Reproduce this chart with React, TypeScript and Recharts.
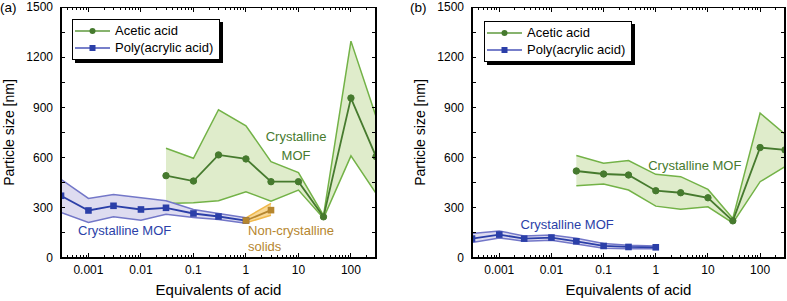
import { ComposedChart, Line, Area, XAxis, YAxis, ReferenceDot, Legend } from "recharts";

// x positions (equivalents of acid)
const GREEN_X = [0.03, 0.1, 0.3, 1, 3, 10, 30, 100, 300];
const BLUE_X = [0.0003, 0.001, 0.003, 0.01, 0.03, 0.1, 0.3, 1];
const ORANGE_X = [1, 3];

// panel (a)
const A_GREEN_MID = [492, 460, 616, 592, 456, 456, 246, 956, 606];
const A_GREEN_LO = [326, 330, 342, 396, 340, 406, 238, 610, 386];
const A_GREEN_HI = [656, 596, 886, 790, 576, 510, 254, 1296, 846];
const A_BLUE_MID = [372, 284, 312, 290, 300, 266, 248, 224];
const A_BLUE_LO = [272, 212, 246, 226, 262, 242, 230, 208];
const A_BLUE_HI = [470, 356, 380, 360, 342, 290, 266, 240];
const A_ORANGE_MID = [224, 286];
const A_ORANGE_LO = [210, 256];
const A_ORANGE_HI = [240, 326];

// panel (b)
const B_GREEN_MID = [520, 502, 496, 402, 390, 360, 222, 660, 646];
const B_GREEN_LO = [432, 442, 406, 310, 292, 306, 210, 456, 546];
const B_GREEN_HI = [612, 566, 582, 500, 486, 410, 236, 866, 740];
const B_BLUE_MID = [116, 140, 116, 122, 100, 72, 66, 64];
const B_BLUE_LO = [92, 120, 100, 106, 84, 58, 56, 56];
const B_BLUE_HI = [146, 162, 132, 138, 118, 86, 76, 72];

// axes
const X_DOMAIN = [0.0003, 300];
const Y_DOMAIN = [0, 1500];
const X_MAJOR = [0.001, 0.01, 0.1, 1, 10, 100];
const X_DECADES = [0.0001, 0.001, 0.01, 0.1, 1, 10, 100];
const Y_TICKS = [0, 150, 300, 450, 600, 750, 900, 1050, 1200, 1350, 1500];
const Y_LABELED = [0, 300, 600, 900, 1200, 1500];

const X_TICKS = X_DECADES.flatMap((d) =>
  [1, 2, 3, 4, 5, 6, 7, 8, 9].map((m) => Number((m * d).toPrecision(3)))
).filter((v) => v >= X_DOMAIN[0] && v <= X_DOMAIN[1]);

const GREEN_DARK = "#467a2e";
const GREEN_EDGE = "#73b247";
const GREEN_FILL = "#dfeccb";
const BLUE_DARK = "#2b3fa8";
const BLUE_EDGE = "#7377c8";
const BLUE_FILL = "#dedcf0";
const ORANGE_DARK = "#b6862e";
const ORANGE_EDGE = "#f0b849";
const ORANGE_FILL = "#f8d896";

const FONT = '"Liberation Sans", Arial, Helvetica, sans-serif';
const X_AXIS_H = 40;
const Y_AXIS_W = 45;

const rows = (xs: number[], mid: number[], lo: number[], hi: number[]) =>
  xs.map((x, i) => ({ x, y: mid[i], range: [lo[i], hi[i]] }));

const BottomTick = (p: any) =>
  X_MAJOR.includes(p.payload.value) ? (
    <text x={p.x} y={p.y + 16} textAnchor="middle" fontSize={12} fill="#000" fontFamily={FONT}>
      {String(p.payload.value)}
    </text>
  ) : (
    <g />
  );

const circleDot = (color: string) => ({ r: 3.2, fill: color, stroke: color, strokeWidth: 1 });

const squareDot = (color: string) => (p: any) => (
  <rect key={`sq-${p.index}`} x={p.cx - 3.3} y={p.cy - 3.3} width={6.6} height={6.6} fill={color} />
);

const LEGEND_NAMES = ["Acetic acid", "Poly(acrylic acid)"];
const LEGEND_COLORS = [GREEN_DARK, BLUE_DARK];

const LegendBox = () => (
  <div
    style={{
      border: "1px solid #000",
      background: "#fff",
      boxShadow: "3px 3px 0 #000",
      padding: "3px 6px 3px 1px",
      fontFamily: FONT,
      fontSize: 13,
      lineHeight: "16.5px",
      color: "#000",
    }}
  >
    {LEGEND_NAMES.map((name, i) => (
      <div key={name} style={{ display: "flex", alignItems: "center", whiteSpace: "nowrap" }}>
        <svg width={38} height={12} style={{ marginRight: 3 }}>
          <line x1={1} x2={36} y1={6} y2={6} stroke={i === 0 ? "#5f9a3e" : "#4a55b8"} strokeWidth={1.6} />
          {i === 0 ? (
            <circle cx={18.5} cy={6} r={3} fill={LEGEND_COLORS[i]} />
          ) : (
            <rect x={15.5} y={3} width={6} height={6} fill={LEGEND_COLORS[i]} />
          )}
        </svg>
        <span>{name}</span>
      </div>
    ))}
  </div>
);

type Note = { x: number; y: number; text: string; color: string; pos?: "center" | "right" };

const A_NOTES: Note[] = [
  { x: 9, y: 724, text: "Crystalline", color: GREEN_DARK },
  { x: 9, y: 614, text: "MOF", color: GREEN_DARK },
  { x: 0.0049, y: 166, text: "Crystalline MOF", color: BLUE_DARK },
  { x: 1.1, y: 166, text: "Non-crystalline", color: ORANGE_DARK, pos: "right" },
  { x: 1.1, y: 70, text: "solids", color: ORANGE_DARK, pos: "right" },
];

const B_NOTES: Note[] = [
  { x: 5.6, y: 556, text: "Crystalline MOF", color: GREEN_DARK },
  { x: 0.02, y: 202, text: "Crystalline MOF", color: BLUE_DARK },
];

type Row = { x: number; y: number; range: number[] };

type PanelProps = {
  tag: string;
  left: number;
  width: number;
  margin: { top: number; right: number; bottom: number; left: number };
  yLabelX: number;
  tagX: number;
  legendPos: { left: number; top: number };
  green: Row[];
  blue: Row[];
  orange?: Row[];
  notes: Note[];
};

// box frame with inward ticks on all four sides, laid over the plot area
function Frame({ l, r, t, b }: { l: number; r: number; t: number; b: number }) {
  const lo = Math.log10(X_DOMAIN[0]);
  const hi = Math.log10(X_DOMAIN[1]);
  const px = (v: number) => l + ((Math.log10(v) - lo) / (hi - lo)) * (r - l);
  const py = (v: number) => b - ((v - Y_DOMAIN[0]) / (Y_DOMAIN[1] - Y_DOMAIN[0])) * (b - t);
  const mark = (key: string, left: number, top: number, w: number, h: number) => (
    <div key={key} style={{ position: "absolute", left, top, width: w, height: h, background: "#000" }} />
  );
  return (
    <div style={{ position: "absolute", left: 0, top: 0, width: "100%", height: "100%", zIndex: 10, pointerEvents: "none" }}>
      <div
        style={{
          position: "absolute",
          left: l - 1,
          top: t - 0.5,
          width: r - l + 2,
          height: b - t + 1.5,
          boxSizing: "border-box",
          borderStyle: "solid",
          borderColor: "#000",
          borderWidth: "1px 2px 2px 2px",
        }}
      />
      {X_TICKS.map((v) => {
        const len = X_MAJOR.includes(v) ? 5 : 3;
        const x = px(v) - 0.5;
        return [mark(`b${v}`, x, b - len, 1, len), mark(`t${v}`, x, t, 1, len)];
      })}
      {Y_TICKS.map((v) => {
        const y = py(v) - 0.5;
        return [mark(`l${v}`, l, y, 4, 1), mark(`r${v}`, r - 4, y, 4, 1)];
      })}
    </div>
  );
}

function Panel(props: PanelProps) {
  const { margin } = props;
  const plotTop = margin.top;
  const plotBottom = 301 - margin.bottom - X_AXIS_H;
  const plotLeft = margin.left + Y_AXIS_W;
  const plotRight = props.width - margin.right;
  const ax = { xAxisId: "b", yAxisId: "l", ifOverflow: "visible" as const };
  return (
    <div style={{ position: "absolute", left: props.left, top: 0, width: props.width, height: 301 }}>
      <ComposedChart width={props.width} height={301} margin={margin}>
        <XAxis
          xAxisId="b"
          dataKey="x"
          type="number"
          scale="log"
          domain={X_DOMAIN}
          allowDataOverflow
          ticks={X_TICKS}
          interval={0}
          tick={BottomTick}
          tickLine={false}
          tickSize={0}
          tickMargin={0}
          height={X_AXIS_H}
          axisLine={false}
          label={{ value: "Equivalents of acid", position: "insideBottom", offset: 3, fontSize: 15, fill: "#000", fontFamily: FONT }}
        />
        <YAxis
          yAxisId="l"
          type="number"
          domain={Y_DOMAIN}
          ticks={Y_TICKS}
          interval={0}
          tickFormatter={(v: number) => (Y_LABELED.includes(v) ? String(v) : "")}
          tick={{ fontSize: 12, fill: "#000", fontFamily: FONT }}
          tickLine={false}
          tickSize={0}
          tickMargin={8}
          width={Y_AXIS_W}
          axisLine={false}
        />

        <Area
          xAxisId="b" yAxisId="l" data={props.green} dataKey="range" type="linear"
          stroke={GREEN_EDGE} strokeWidth={1.5} fill={GREEN_FILL} fillOpacity={1}
          dot={false} activeDot={false} isAnimationActive={false}
        />
        <Area
          xAxisId="b" yAxisId="l" data={props.blue} dataKey="range" type="linear"
          stroke={BLUE_EDGE} strokeWidth={1.5} fill={BLUE_FILL} fillOpacity={1}
          dot={false} activeDot={false} isAnimationActive={false}
        />
        {props.orange && (
          <Area
            xAxisId="b" yAxisId="l" data={props.orange} dataKey="range" type="linear"
            stroke={ORANGE_EDGE} strokeWidth={1.5} fill={ORANGE_FILL} fillOpacity={1}
            dot={false} activeDot={false} isAnimationActive={false}
          />
        )}
        <Line
          xAxisId="b" yAxisId="l" data={props.green} dataKey="y" type="linear"
          stroke={GREEN_DARK} strokeWidth={1.8} dot={circleDot(GREEN_DARK)}
          activeDot={false} isAnimationActive={false}
        />
        <Line
          xAxisId="b" yAxisId="l" data={props.blue} dataKey="y" type="linear"
          stroke={BLUE_DARK} strokeWidth={1.8} dot={squareDot(BLUE_DARK)}
          activeDot={false} isAnimationActive={false}
        />
        {props.orange && (
          <Line
            xAxisId="b" yAxisId="l" data={props.orange} dataKey="y" type="linear"
            stroke={ORANGE_DARK} strokeWidth={1.8} dot={squareDot(ORANGE_DARK)}
            activeDot={false} isAnimationActive={false}
          />
        )}

        {props.notes.map((n, i) => (
          <ReferenceDot
            key={i}
            {...ax}
            x={n.x}
            y={n.y}
            r={0}
            fill="none"
            stroke="none"
            label={{
              value: n.text,
              position: n.pos ?? "center",
              offset: 0,
              fill: n.color,
              fontSize: 13,
              fontFamily: FONT,
            }}
          />
        ))}

        <Legend
          layout="vertical"
          align="center"
          verticalAlign="middle"
          content={LegendBox}
          wrapperStyle={{ left: props.legendPos.left, top: props.legendPos.top, width: "auto" }}
        />
      </ComposedChart>
      <Frame l={plotLeft} r={plotRight} t={plotTop} b={plotBottom} />
      <svg
        width={props.width}
        height={301}
        style={{ position: "absolute", left: 0, top: 0, pointerEvents: "none", zIndex: 11 }}
      >
        <text x={props.tagX} y={12} fontSize={13.5} fill="#000" fontFamily={FONT}>
          {props.tag}
        </text>
        <text
          x={props.yLabelX}
          y={(plotTop + plotBottom) / 2}
          transform={`rotate(-90, ${props.yLabelX}, ${(plotTop + plotBottom) / 2})`}
          textAnchor="middle"
          dy="0.35em"
          fontSize={14}
          fill="#000"
          fontFamily={FONT}
        >
          Particle size [nm]
        </text>
      </svg>
    </div>
  );
}

export default function App() {
  return (
    <div style={{ position: "absolute", left: 0, top: 0, width: 787, height: 301, background: "#fff", fontFamily: FONT }}>
      <Panel
        tag="(a)"
        left={0}
        width={395}
        margin={{ top: 7, right: 19, bottom: 3, left: 16 }}
        yLabelX={9.5}
        tagX={0}
        legendPos={{ left: 72, top: 19 }}
        green={rows(GREEN_X, A_GREEN_MID, A_GREEN_LO, A_GREEN_HI)}
        blue={rows(BLUE_X, A_BLUE_MID, A_BLUE_LO, A_BLUE_HI)}
        orange={rows(ORANGE_X, A_ORANGE_MID, A_ORANGE_LO, A_ORANGE_HI)}
        notes={A_NOTES}
      />
      <Panel
        tag="(b)"
        left={395}
        width={392}
        margin={{ top: 7, right: 2, bottom: 3, left: 32 }}
        yLabelX={25}
        tagX={15}
        legendPos={{ left: 89, top: 21 }}
        green={rows(GREEN_X, B_GREEN_MID, B_GREEN_LO, B_GREEN_HI)}
        blue={rows(BLUE_X, B_BLUE_MID, B_BLUE_LO, B_BLUE_HI)}
        notes={B_NOTES}
      />
    </div>
  );
}
